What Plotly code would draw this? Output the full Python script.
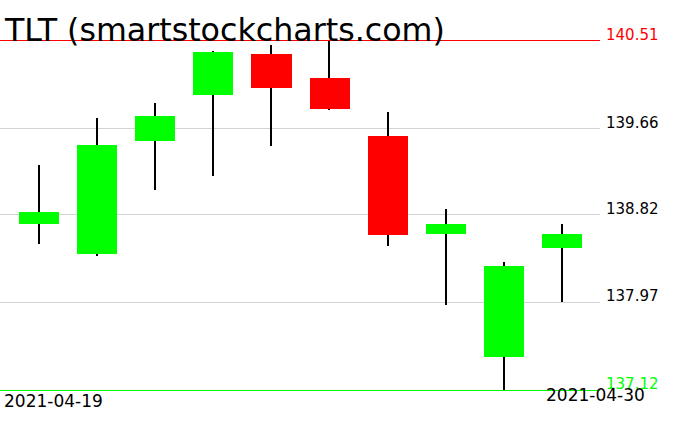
import plotly.graph_objects as go

# ---- data ----
dates = ['2021-04-19', '2021-04-20', '2021-04-21', '2021-04-22', '2021-04-23',
         '2021-04-26', '2021-04-27', '2021-04-28', '2021-04-29', '2021-04-30']
opens = [138.73, 138.44, 139.54, 139.99, 140.38, 140.15, 139.59, 138.64, 137.44, 138.50]
highs = [139.31, 139.76, 139.91, 140.41, 140.47, 140.51, 139.82, 138.88, 138.36, 138.73]
lows = [138.54, 138.42, 139.06, 139.20, 139.49, 139.84, 138.52, 137.95, 137.12, 137.97]
closes = [138.85, 139.50, 139.78, 140.40, 140.05, 139.85, 138.63, 138.73, 138.32, 138.64]
tick_labels = ['137.12', '137.97', '138.82', '139.66', '140.51']
title_text = 'TLT (smartstockcharts.com)'

GREEN = '#00ff00'
RED = '#ff0000'
FONT = 'DejaVu Sans'

body_base = [min(o, c) for o, c in zip(opens, closes)]
body_len = [abs(c - o) for o, c in zip(opens, closes)]
body_col = [GREEN if c >= o else RED for o, c in zip(opens, closes)]

fig = go.Figure()
# wicks (bottom subplot layer)
fig.add_trace(go.Bar(
    x=dates, base=lows, y=[h - l for h, l in zip(highs, lows)],
    width=0.025, marker=dict(color='black', line=dict(width=0)),
    hoverinfo='skip', showlegend=False, xaxis='x', yaxis='y'))
# bodies (overlaying layer, drawn above wicks)
fig.add_trace(go.Bar(
    x=dates, base=body_base, y=body_len,
    width=0.69, marker=dict(color=body_col, line=dict(width=0)),
    showlegend=False, xaxis='x2', yaxis='y'))

ymin, ymax = min(lows), max(highs)
tick_vals = [float(t) for t in tick_labels]

fig.update_layout(
    width=676, height=431,
    margin=dict(l=0, r=76, t=41, b=41),
    paper_bgcolor='white', plot_bgcolor='white',
    barmode='overlay', bargap=0,
    # bottom axis line = min low (green)
    xaxis=dict(type='category', range=[-0.67, 9.65], showgrid=False,
               showticklabels=False, zeroline=False, ticks='',
               showline=True, linecolor=GREEN, linewidth=1),
    # top axis line = max high (red)
    xaxis2=dict(type='category', range=[-0.67, 9.65], overlaying='x', side='top',
                matches='x', showgrid=False, showticklabels=False, zeroline=False,
                ticks='', showline=True, linecolor=RED, linewidth=1),
    yaxis=dict(range=[ymin, ymax], tickvals=tick_vals[1:-1], showticklabels=False,
               gridcolor='#d3d3d3', gridwidth=1, zeroline=False, showline=False,
               ticks=''),
    showlegend=False,
)

# right side price labels
label_cols = [GREEN, 'black', 'black', 'black', RED]
for lab, val, col in zip(tick_labels, tick_vals, label_cols):
    fig.add_annotation(text=lab, xref='paper', x=1, xshift=4, xanchor='left',
                       yref='y', y=val, yanchor='bottom', yshift=-5,
                       showarrow=False,
                       font=dict(family=FONT, size=15, color=col))

# date labels
fig.add_annotation(text=dates[0], xref='paper', x=0, xshift=2, xanchor='left',
                   yref='paper', y=0, yanchor='top', yshift=1, showarrow=False,
                   font=dict(family=FONT, size=17, color='black'))
fig.add_annotation(text=dates[-1], xref='paper', x=1, xshift=47, xanchor='right',
                   yref='paper', y=0, yanchor='top', yshift=7, showarrow=False,
                   font=dict(family=FONT, size=17, color='black'))

# title
fig.add_annotation(text=title_text, xref='paper', x=0, xshift=2, xanchor='left',
                   yref='paper', y=1, yanchor='bottom', yshift=-9, showarrow=False,
                   font=dict(family=FONT, size=31.7, color='black'))

fig.write_html('out.html', config={'displayModeBar': False},
               post_script="document.body.style.margin='0';")
